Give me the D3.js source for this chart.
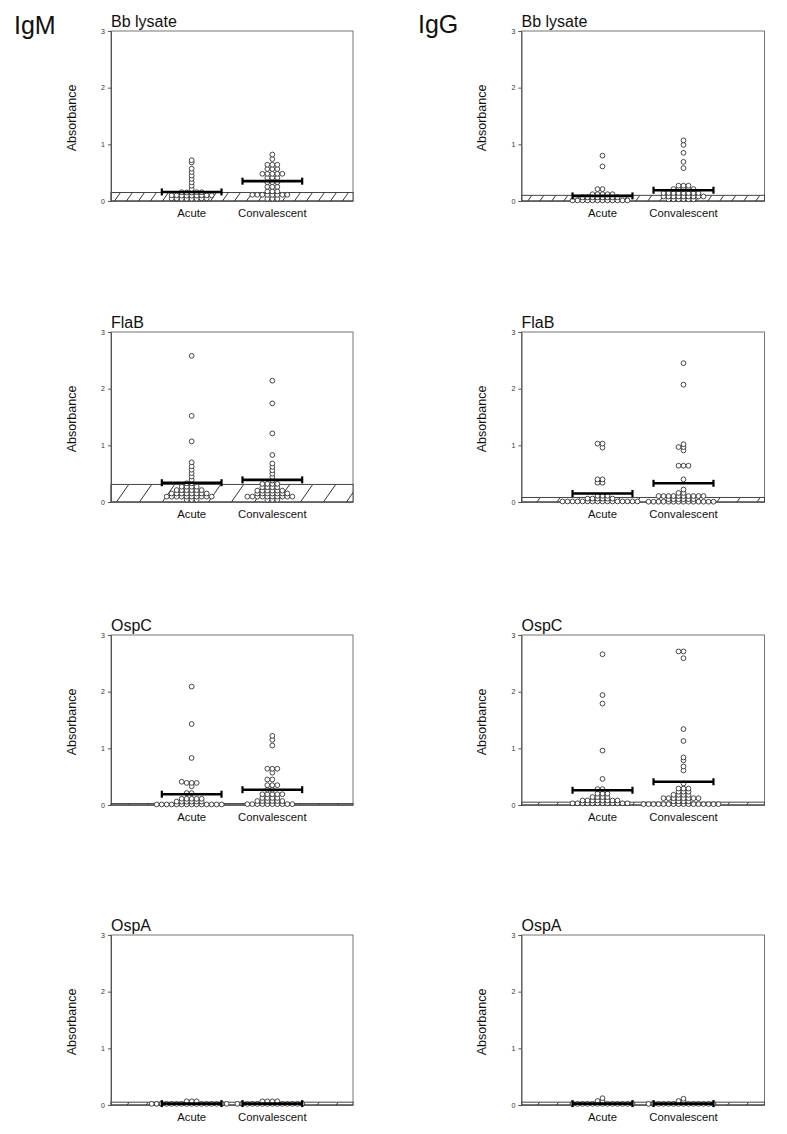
<!DOCTYPE html>
<html><head><meta charset="utf-8">
<script src="https://cdn.jsdelivr.net/npm/d3@7"></script>
<style>body{margin:0;background:#fff}svg text{font-family:"Liberation Sans",Arial,sans-serif}</style>
</head><body>
<svg id="chart" width="787" height="1134"></svg>
<script>
const isotypes = ["IgM", "IgG"];
const antigens = ["Bb lysate", "FlaB", "OspC", "OspA"];
const groups = ["Acute", "Convalescent"];
const yTicks = [0, 1, 2, 3];
const yAxisLabel = "Absorbance";

// ---- IgM values (absorbance) ----
const igmBbAcute = [0.72,0.68,0.57,0.51,0.45,0.39,0.33,0.27,0.21,
  0.155,0.155,0.15,0.155,0.15,
  0.10,0.10,0.095,0.10,0.095,0.10,0.095,0.10,0.095,
  0.045,0.04,0.045,0.04,0.045,0.04,0.045,0.04];
const igmBbConv = [0.82,0.74,0.64,0.64,0.64,0.565,0.565,0.565,
  0.48,0.48,0.48,0.48,0.48,0.41,0.41,0.41,0.33,0.33,0.33,0.25,0.25,0.25,
  0.17,0.17,0.17,0.11,0.11,0.11,0.11,0.11,0.11,0.11,0.11,0.04,0.04,0.04];
const igmFlaBAcute = [2.58,1.52,1.07,0.70,0.63,0.57,0.51,0.45,0.39,0.33,0.33,
  0.27,0.27,0.27,0.27,0.21,0.21,0.21,0.21,0.21,0.21,
  0.15,0.15,0.15,0.15,0.15,0.15,0.15,0.15,
  0.095,0.095,0.095,0.095,0.095,0.095,0.095,0.095,0.095,0.095,0.04,0.04,0.04];
const igmFlaBConv = [2.14,1.74,1.21,0.83,0.68,0.62,0.56,0.50,0.44,0.38,
  0.32,0.32,0.32,0.32,0.26,0.26,0.26,0.26,0.20,0.20,0.20,0.20,0.20,0.20,
  0.15,0.15,0.15,0.15,0.15,0.15,0.15,
  0.095,0.095,0.095,0.095,0.095,0.095,0.095,0.095,0.095,0.095,0.04,0.04,0.04];
const igmOspCAcute = [2.09,1.43,0.83,0.39,0.39,0.39,0.41,0.33,0.21,0.21,
  0.11,0.11,0.11,0.11,0.11,0.06,0.06,0.06,0.06,0.06,0.06,
  0.01,0.01,0.01,0.01,0.01,0.01,0.01,0.01,0.01,0.01,0.01,0.01,0.01,0.01];
const igmOspCConv = [1.22,1.15,1.05,0.64,0.64,0.64,0.57,0.45,0.45,0.35,0.35,0.35,
  0.27,0.27,0.19,0.19,0.19,0.19,0.19,0.125,0.125,0.125,0.125,
  0.07,0.07,0.07,0.07,0.07,0.07,
  0.015,0.015,0.015,0.015,0.015,0.015,0.015,0.015,0.015,0.015];
const igmOspAAcute = [0.065,0.065,0.065,
  0.02,0.02,0.02,0.02,0.02,0.02,0.02,0.02,0.02,0.02,0.02,0.02,0.02,0.02,0.02,0.02];
const igmOspAConv = [0.065,0.065,0.065,0.065,
  0.02,0.02,0.02,0.02,0.02,0.02,0.02,0.02,0.02,0.02,0.02,0.02,0.02,0.02];

// ---- IgG values (absorbance) ----
const iggBbAcute = [0.80,0.61,0.21,0.21,0.12,0.12,0.12,0.12,0.12,
  0.065,0.065,0.065,0.065,0.065,0.065,0.065,0.065,
  0.01,0.01,0.01,0.01,0.01,0.01,0.01,0.01,0.01,0.01,0.01,0.01];
const iggBbConv = [1.07,0.99,0.85,0.69,0.58,0.27,0.27,0.27,0.21,0.21,0.21,0.21,0.21,
  0.14,0.14,0.14,0.14,0.14,0.14,0.14,0.14,
  0.08,0.08,0.08,0.08,0.08,0.08,0.08,0.08,0.08,0.03,0.03,0.03,0.03,0.03,0.03];
const iggFlaBAcute = [1.03,1.03,0.96,0.40,0.40,0.34,0.34,0.11,0.11,0.11,
  0.06,0.06,0.06,0.06,0.06,0.06,
  0.01,0.01,0.01,0.01,0.01,0.01,0.01,0.01,0.01,0.01,0.01,0.01,0.01,0.01,0.01,0.01];
const iggFlaBConv = [2.45,2.07,1.02,0.97,0.97,0.91,0.64,0.64,0.64,0.40,0.22,0.16,0.16,
  0.105,0.105,0.105,0.105,0.105,0.105,0.105,0.105,0.105,0.105,
  0.05,0.05,0.05,0.05,0.05,0.05,
  0.005,0.005,0.005,0.005,0.005,0.005,0.005,0.005,0.005,0.005,0.005,0.005,0.005,0.005];
const iggOspCAcute = [2.66,1.94,1.79,0.96,0.46,0.28,0.28,0.20,0.20,0.20,0.14,0.14,0.14,0.14,
  0.08,0.08,0.08,0.08,0.08,0.08,0.08,0.08,
  0.03,0.03,0.03,0.03,0.03,0.03,0.03,0.03,0.03,0.03,0.03,0.03];
const iggOspCConv = [2.71,2.71,2.59,1.34,1.13,0.84,0.79,0.68,0.61,0.38,
  0.29,0.29,0.29,0.235,0.235,0.235,0.18,0.18,0.18,0.18,
  0.12,0.12,0.12,0.12,0.12,0.12,0.12,0.12,0.065,0.065,0.065,0.065,
  0.015,0.015,0.015,0.015,0.015,0.015,0.015,0.015,0.015,0.015,0.015,0.015,0.015,0.015,0.015,0.015];
const iggOspAAcute = [0.12,0.07,0.07,
  0.02,0.02,0.02,0.02,0.02,0.02,0.02,0.02,0.02,0.02,0.02,0.02,0.02];
const iggOspAConv = [0.11,0.07,0.07,
  0.02,0.02,0.02,0.02,0.02,0.02,0.02,0.02,0.02,0.02,0.02,0.02,0.02,0.02];

// group means (horizontal bars) and cutoff (hatched band), per antigen
const igmMeanAcute = [0.16, 0.34, 0.19, 0.025];
const igmMeanConv  = [0.35, 0.39, 0.27, 0.025];
const iggMeanAcute = [0.09, 0.15, 0.26, 0.025];
const iggMeanConv  = [0.19, 0.33, 0.41, 0.025];
const igmCutoff = [0.15, 0.31, 0.025, 0.05];
const iggCutoff = [0.10, 0.08, 0.05, 0.05];

const seriesByIsotype = {
  IgM: { acute: [igmBbAcute, igmFlaBAcute, igmOspCAcute, igmOspAAcute],
         conv:  [igmBbConv, igmFlaBConv, igmOspCConv, igmOspAConv],
         meanA: igmMeanAcute, meanC: igmMeanConv, cut: igmCutoff },
  IgG: { acute: [iggBbAcute, iggFlaBAcute, iggOspCAcute, iggOspAAcute],
         conv:  [iggBbConv, iggFlaBConv, iggOspCConv, iggOspAConv],
         meanA: iggMeanAcute, meanC: iggMeanConv, cut: iggCutoff }
};

// ---- layout ----
const colLeft = [111, 521.5];
const colWidth = [242, 243];
const rowTop = [31, 332, 635, 935];
const frameH = 170;
const hatchSpacing = [[12, 12], [23, 20], [19, 19], [19, 19]];
const dotR = 2.4, dotStep = 5;
const barHalf = 0.37;

const svg = d3.select("#chart");
svg.append("rect").attr("width", 787).attr("height", 1134).attr("fill", "#fff");

svg.append("text").attr("x", 14).attr("y", 34).attr("font-size", 25).attr("fill", "#111").text(isotypes[0]);
svg.append("text").attr("x", 418).attr("y", 33).attr("font-size", 25).attr("fill", "#111").text(isotypes[1]);

function swarm(values, cx, y) {
  const placed = [];
  values.slice().sort((a, b) => a - b).forEach(v => {
    const py = y(v);
    for (let k = 0; k < 200; k++) {
      const off = k === 0 ? 0 : (k % 2 ? -1 : 1) * Math.ceil(k / 2) * dotStep;
      const px = cx + off;
      const hit = placed.some(p => Math.abs(p.y - py) < dotStep * 0.4 && Math.abs(p.x - px) < dotStep * 0.9);
      if (!hit) { placed.push({ x: px, y: py, v }); break; }
    }
  });
  return placed;
}

let clipId = 0;
isotypes.forEach((iso, c) => {
  const S = seriesByIsotype[iso];
  antigens.forEach((ag, r) => {
    const L = colLeft[c], W = colWidth[c], T = rowTop[r];
    const x = d3.scaleLinear().domain([0, 3]).range([L, L + W]);
    const y = d3.scaleLinear().domain([0, 3]).range([T + frameH, T]);
    const g = svg.append("g");

    // title
    g.append("text").attr("x", L).attr("y", T - 4).attr("font-size", 16).attr("fill", "#111").text(ag);

    // y label
    g.append("text")
      .attr("transform", `translate(${c === 0 ? 76 : 486},${T + frameH / 2 + 2}) rotate(-90)`)
      .attr("text-anchor", "middle").attr("font-size", 12.5).attr("fill", "#111").text(yAxisLabel);

    // frame
    g.append("rect").attr("x", L).attr("y", T).attr("width", W).attr("height", frameH)
      .attr("fill", "none").attr("stroke", "#777").attr("stroke-width", 1);

    // cutoff band with hatch
    const cut = S.cut[r];
    const bandTop = y(cut), bandBot = y(0), bh = bandBot - bandTop;
    const id = "clip" + (clipId++);
    g.append("clipPath").attr("id", id).append("rect")
      .attr("x", L).attr("y", bandTop).attr("width", W).attr("height", bh);
    g.append("rect").attr("x", L).attr("y", bandTop).attr("width", W).attr("height", bh)
      .attr("fill", "#fff").attr("stroke", "#444").attr("stroke-width", 1);
    const sp = hatchSpacing[r][c];
    const hx = d3.range(L - bh, L + W + sp, sp);
    g.append("g").attr("clip-path", `url(#${id})`).selectAll("line").data(hx).join("line")
      .attr("x1", d => d).attr("y1", bandBot)
      .attr("x2", d => d + bh * 0.7).attr("y2", bandTop)
      .attr("stroke", "#333").attr("stroke-width", 1);

    // y axis
    const ax = g.append("g").attr("transform", `translate(${L},0)`)
      .call(d3.axisLeft(y).tickValues(yTicks).tickSize(3).tickPadding(3).tickFormat(d3.format("d")));
    ax.select(".domain").attr("stroke", "#555");
    ax.selectAll(".tick line").attr("stroke", "#555");
    ax.selectAll(".tick text").attr("font-size", 7).attr("fill", "#333")
      .attr("font-family", "'Liberation Sans',Arial,sans-serif");

    // bottom line
    g.append("line").attr("x1", L).attr("x2", L + W).attr("y1", y(0)).attr("y2", y(0))
      .attr("stroke", "#444");

    // dots
    const sets = [S.acute[r], S.conv[r]];
    sets.forEach((vals, i) => {
      const pts = swarm(vals, x(i + 1), y);
      g.append("g").selectAll("circle").data(pts).join("circle")
        .attr("cx", d => d.x).attr("cy", d => d.y).attr("r", dotR)
        .attr("fill", "#fff").attr("stroke", "#333").attr("stroke-width", 0.9);
    });

    // mean bars
    const means = [S.meanA[r], S.meanC[r]];
    means.forEach((m, i) => {
      const bg = g.append("g");
      bg.append("line").attr("x1", x(i + 1 - barHalf)).attr("x2", x(i + 1 + barHalf))
        .attr("y1", y(m)).attr("y2", y(m)).attr("stroke", "#000").attr("stroke-width", 2.6);
      [i + 1 - barHalf, i + 1 + barHalf].forEach(e => {
        bg.append("line").attr("x1", x(e)).attr("x2", x(e))
          .attr("y1", y(m) - 3.5).attr("y2", y(m) + 3.5).attr("stroke", "#000").attr("stroke-width", 2.2);
      });
    });

    // category labels
    groups.forEach((gname, i) => {
      g.append("text").attr("x", x(i + 1)).attr("y", y(0) + 16).attr("text-anchor", "middle")
        .attr("font-size", 11.3).attr("fill", "#111").text(gname);
    });
  });
});
</script>
</body></html>
